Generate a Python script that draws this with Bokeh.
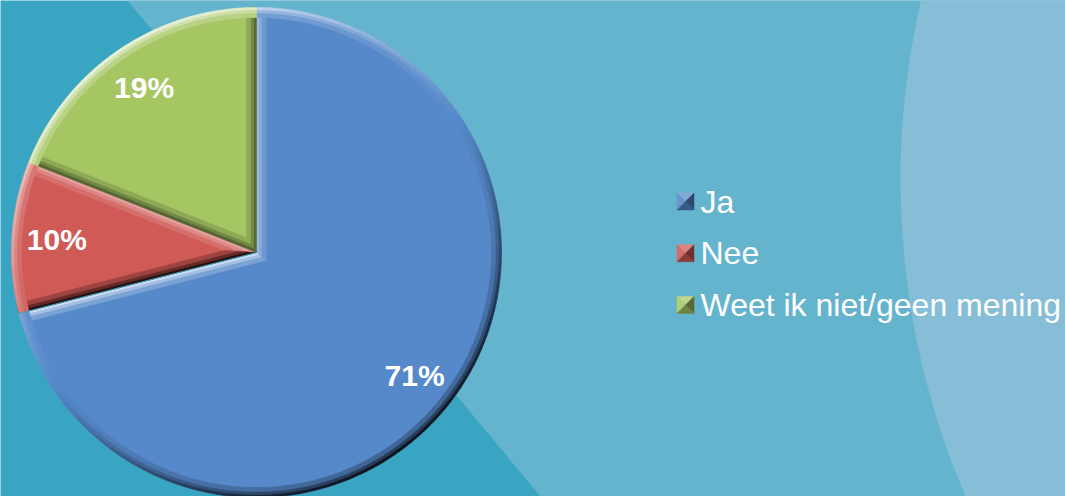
import numpy as np
from bokeh.plotting import figure
from bokeh.models import Range1d, ColumnDataSource
from bokeh.core.properties import value
from bokeh.embed import file_html
from bokeh.resources import INLINE

# ---------------- data ----------------
categories = ["Ja", "Nee", "Weet ik niet/geen mening"]
shares = [71, 10, 19]
pct_labels = ["71%", "10%", "19%"]
colors = ["#5689CA", "#CF5A56", "#A6C664"]

# ---------------- layout / style ----------------
W, H = 1065, 496
CX, CY, R = 256, H - 252, 245
LABEL_R = 200
LIGHT = np.array([-0.55, 0.84])
LIGHT = LIGHT / np.linalg.norm(LIGHT)
BANDS = [(0, 3, 1.0), (3, 6, 0.65), (6, 10, 0.3)]
BG_DARK, BG_MID, BG_LIGHT = "#3AA5C3", "#65B4CE", "#85BED6"


def shade(hexc, d):
    c = np.array([int(hexc[i:i + 2], 16) for i in (1, 3, 5)], dtype=float)
    if d >= 0:
        c = c + (255 - c) * min(1.0, 0.75 * d)
    else:
        c = c * (1 - min(1.0, 0.85 * -d))
    c = np.clip(np.round(c), 0, 255).astype(int)
    return "#%02x%02x%02x" % tuple(c)


p = figure(width=W, height=H, x_range=Range1d(0, W), y_range=Range1d(0, H),
           output_backend="svg", toolbar_location=None, min_border=0)
p.axis.visible = False
p.grid.visible = False
p.outline_line_color = None
p.background_fill_color = BG_DARK
p.border_fill_color = BG_DARK

# background decoration
p.patch([127, 540, W, W], [H, 0, 0, H], fill_color=BG_MID, line_color=None)
p.circle([1700], [H - 180], radius=800, fill_color=BG_LIGHT, line_color=None)

# ---------------- pie ----------------
frac = np.array(shares, dtype=float) / sum(shares)
cum = np.concatenate([[0.0], np.cumsum(frac)])
a_hi = np.pi / 2 - 2 * np.pi * cum[:-1]
a_lo = np.pi / 2 - 2 * np.pi * cum[1:]

src = ColumnDataSource(dict(x=[CX] * 3, y=[CY] * 3, start=list(a_lo), end=list(a_hi),
                            color=colors, cat=categories))
p.wedge(x="x", y="y", radius=R, start_angle="start", end_angle="end",
        fill_color="color", line_color=None, source=src)

C = np.array([CX, CY], dtype=float)

# straight-edge bevels
exs, eys, ecs = [], [], []
for i in range(3):
    h = (a_hi[i] - a_lo[i]) / 2
    for ang, nin_ang, nout_ang in ((a_lo[i], a_lo[i] + np.pi / 2, a_lo[i] - np.pi / 2),
                                   (a_hi[i], a_hi[i] - np.pi / 2, a_hi[i] + np.pi / 2)):
        u = np.array([np.cos(ang), np.sin(ang)])
        nin = np.array([np.cos(nin_ang), np.sin(nin_ang)])
        nout = np.array([np.cos(nout_ang), np.sin(nout_ang)])
        d = float(np.dot(nout, LIGHT))
        for s1, s2, st in BANDS:
            t01, t02 = s1 / np.tan(h), s2 / np.tan(h)
            te1, te2 = np.sqrt(R ** 2 - s1 ** 2), np.sqrt(R ** 2 - s2 ** 2)
            pts = [C + s1 * nin + t01 * u, C + s1 * nin + te1 * u,
                   C + s2 * nin + te2 * u, C + s2 * nin + t02 * u]
            exs.append([q[0] for q in pts])
            eys.append([q[1] for q in pts])
            ecs.append(shade(colors[i], d * st))
p.patches(exs, eys, fill_color=ecs, line_color=ecs, line_width=0.5)

# rim bevel
rs = dict(x=[], y=[], ir=[], orr=[], s=[], e=[], c=[])
for i in range(3):
    span = a_hi[i] - a_lo[i]
    n = max(6, int(np.degrees(span) / 1.5))
    edges = np.linspace(a_lo[i], a_hi[i], n + 1)
    for k in range(n):
        phi = (edges[k] + edges[k + 1]) / 2
        d = float(np.dot([np.cos(phi), np.sin(phi)], LIGHT))
        for s1, s2, st in BANDS:
            rs["x"].append(CX); rs["y"].append(CY)
            rs["ir"].append(R - s2); rs["orr"].append(R - s1)
            rs["s"].append(edges[k]); rs["e"].append(edges[k + 1])
            rs["c"].append(shade(colors[i], d * st))
p.annular_wedge(x="x", y="y", inner_radius="ir", outer_radius="orr",
                start_angle="s", end_angle="e", fill_color="c", line_color="c",
                line_width=0.6, source=ColumnDataSource(rs))

# thin separator between "Nee" and "Ja"
sep = a_hi[0] - 2 * np.pi
p.segment(x0=[CX], y0=[CY], x1=[CX + R * np.cos(a_lo[0])], y1=[CY + R * np.sin(a_lo[0])],
          line_color=BG_DARK, line_width=1)

# percentage labels
mid = (a_lo + a_hi) / 2
lx = CX + LABEL_R * np.cos(mid)
ly = CY + LABEL_R * np.sin(mid)
p.text(x=list(lx), y=list(ly), text=pct_labels, text_color="white",
       text_font=value("Liberation Sans"), text_font_size="30px",
       text_font_style="bold", text_align="center", text_baseline="middle")

# ---------------- legend ----------------
LX, LY0, LDY, MS = 685, H - 201, 51.7, 17
mx, my, mc = [], [], []
for i in range(3):
    x0, y0 = LX, LY0 - LDY * i
    hs = MS / 2
    tri = {
        "top": ([x0 - hs, x0 + hs, x0], [y0 + hs, y0 + hs, y0], 0.35),
        "left": ([x0 - hs, x0 - hs, x0], [y0 + hs, y0 - hs, y0], 0.15),
        "right": ([x0 + hs, x0 + hs, x0], [y0 + hs, y0 - hs, y0], -0.55),
        "bottom": ([x0 - hs, x0 + hs, x0], [y0 - hs, y0 - hs, y0], -0.4),
    }
    for key, (xs_, ys_, d) in tri.items():
        mx.append(xs_); my.append(ys_); mc.append(shade(colors[i], d))
p.patches(mx, my, fill_color=mc, line_color=mc, line_width=0.5)

p.text(x=[LX + 15] * 3, y=[LY0 - LDY * i for i in range(3)], text=categories,
       text_color="white", text_font=value("Liberation Sans"), text_font_size="32px",
       text_align="left", text_baseline="middle")

open("out.html", "w").write(file_html(p, INLINE))
